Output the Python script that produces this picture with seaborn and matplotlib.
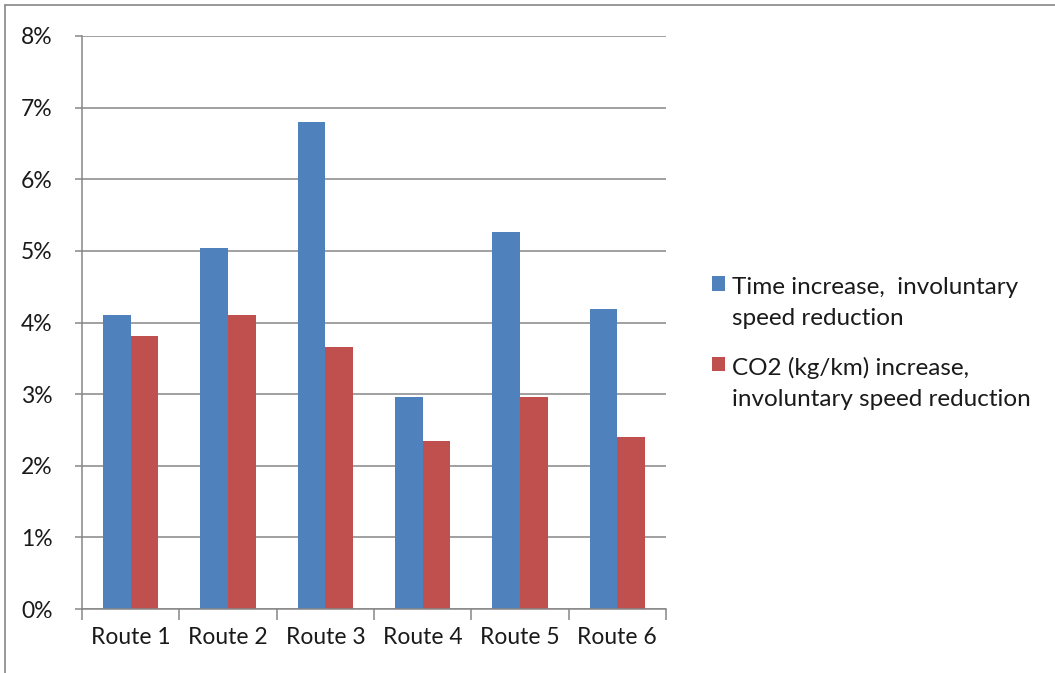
import matplotlib
matplotlib.use("Agg")
import matplotlib.pyplot as plt
from matplotlib.lines import Line2D
from matplotlib.patches import Rectangle
from matplotlib.legend_handler import HandlerPatch
from matplotlib.ticker import FixedLocator, PercentFormatter
import seaborn as sns
import pandas as pd

routes = ["Route 1", "Route 2", "Route 3", "Route 4", "Route 5", "Route 6"]
series_names = [
    "Time increase,  involuntary\nspeed reduction",
    "CO2 (kg/km) increase,\ninvoluntary speed reduction",
]
time_increase = [4.10, 5.04, 6.80, 2.96, 5.27, 4.19]
co2_increase = [3.81, 4.10, 3.66, 2.35, 2.96, 2.40]
y_ticks = [0, 1, 2, 3, 4, 5, 6, 7, 8]

df = pd.DataFrame({
    "route": routes * 2,
    "series": [series_names[0]] * len(routes) + [series_names[1]] * len(routes),
    "value": time_increase + co2_increase,
})

sns.set_theme(style="white")
plt.rcParams["font.family"] = ["Lato", "DejaVu Sans"]

TEXT = "#1a1a1a"
GRID = "#868686"
LEGEND_SIZE = 17.5

fig = plt.figure(figsize=(10.55, 6.73), dpi=100)
ax = fig.add_axes([82 / 1055, 1 - 609 / 673, (666 - 82) / 1055, (609 - 36) / 673])

palette = ["#4F81BD", "#C0504D"]
sns.barplot(data=df, x="route", y="value", hue="series", palette=palette,
            width=0.57, saturation=1, ax=ax, edgecolor="none", linewidth=0)

ax.set_ylim(0, 8)
ax.set_xlim(-0.5, len(routes) - 0.5)
ax.yaxis.set_major_locator(FixedLocator(y_ticks))
ax.yaxis.set_major_formatter(PercentFormatter(decimals=0))
ax.grid(axis="y", color=GRID, linewidth=1.1)
ax.set_axisbelow(True)
ax.set_xlabel("")
ax.set_ylabel("")

for side in ["top", "right"]:
    ax.spines[side].set_visible(False)
for side in ["left", "bottom"]:
    ax.spines[side].set_color(GRID)
    ax.spines[side].set_linewidth(1.1)

# category boundary ticks on the x axis, labels at the centres
ax.xaxis.set_minor_locator(FixedLocator([i - 0.5 for i in range(len(routes) + 1)]))
ax.tick_params(axis="x", which="major", length=0, pad=13, labelsize=16.5, colors=TEXT)
ax.tick_params(axis="x", which="minor", length=8, width=1.1, color=GRID, direction="out")
ax.tick_params(axis="y", which="major", length=5, width=1.1, color=GRID,
               direction="out", pad=16, labelsize=16.5, labelcolor=TEXT)
ax.tick_params(left=True, bottom=True)
ax.xaxis.set_tick_params(which="minor", bottom=True)


def first_line_square(legend, orig_handle, xdescent, ydescent, width, height, fontsize):
    # keep the colour key level with the first line of a two-line label
    return Rectangle((-xdescent, -ydescent + 0.8 * fontsize), width, height)


handles, labels = ax.get_legend_handles_labels()
leg = ax.legend(handles, labels, loc="center left", bbox_to_anchor=(702 / 1055, 1 - 343.5 / 673),
                bbox_transform=fig.transFigure, frameon=False, fontsize=LEGEND_SIZE,
                handlelength=0.55, handleheight=0.55, handletextpad=0.3, labelspacing=1.14,
                borderaxespad=0, labelcolor=TEXT,
                handler_map={h: HandlerPatch(patch_func=first_line_square) for h in handles})
for t in leg.get_texts():
    t.set_linespacing(1.6)

# thin frame along the top and left of the figure
fig.add_artist(Line2D([5 / 1055, 1], [1 - 5 / 673, 1 - 5 / 673], transform=fig.transFigure,
                      color=GRID, linewidth=1.2))
fig.add_artist(Line2D([5 / 1055, 5 / 1055], [0, 1 - 5 / 673], transform=fig.transFigure,
                      color=GRID, linewidth=1.2))

fig.savefig("out.png", dpi=100, facecolor="white")
